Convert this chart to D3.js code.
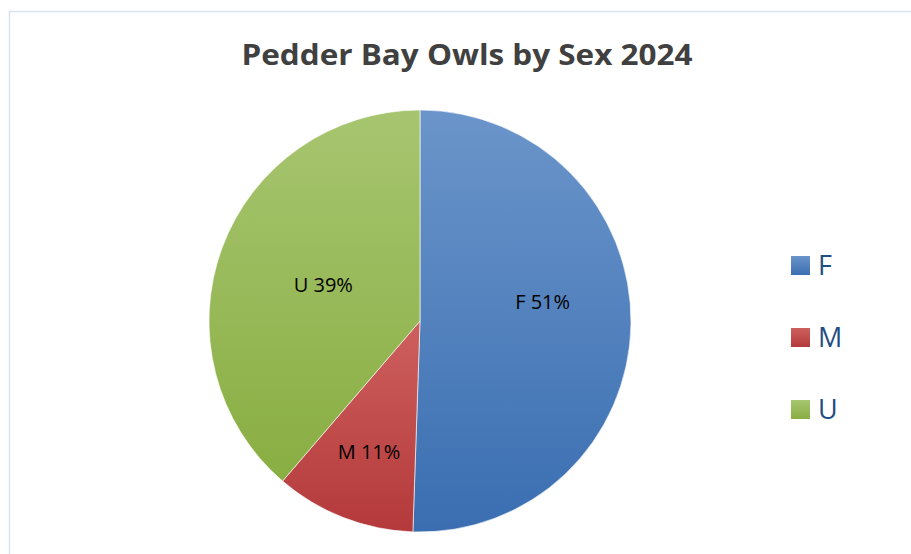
<!DOCTYPE html>
<html>
<head>
<meta charset="utf-8">
<script src="https://cdn.jsdelivr.net/npm/d3@7"></script>
<style>
  body { margin: 0; background: #fff; }
  svg { display: block; }
</style>
</head>
<body>
<script>
// owl counts by sex, 2024
const categories = ["F", "M", "U"]
const counts = [47, 10, 36]
const pctLabels = ["51%", "11%", "39%"]
const colorsTop = ["#6b95ca", "#cd605e", "#a7c570"]
const colorsBottom = ["#3a6eb1", "#b4393a", "#89ae42"]
// nudges so labels sit where Excel's best-fit put them
const labelShift = [[-4, -21], [-5, 13], [22, 8]]

const width = 911
const height = 554
const cx = 420, cy = 321, r = 211

const svg = d3.select("body").append("svg")
    .attr("width", width)
    .attr("height", height)

// chart border
svg.append("rect")
    .attr("x", 9.5).attr("y", 11.5)
    .attr("width", 920).attr("height", 560)
    .attr("fill", "none")
    .attr("stroke", "#d9e4f2")
    .attr("stroke-width", 1.5)

const defs = svg.append("defs")
categories.forEach((c, i) => {
    const g = defs.append("linearGradient")
        .attr("id", "grad" + c)
        .attr("x1", 0).attr("y1", 0).attr("x2", 0).attr("y2", 1)
    g.append("stop").attr("offset", "0%").attr("stop-color", colorsTop[i])
    g.append("stop").attr("offset", "100%").attr("stop-color", colorsBottom[i])
})

svg.append("text")
    .attr("x", 467)
    .attr("y", 65)
    .attr("text-anchor", "middle")
    .attr("font-family", "Open Sans, sans-serif")
    .attr("font-weight", "bold")
    .attr("font-size", 29)
    .attr("fill", "#404040")
    .attr("textLength", 451)
    .attr("lengthAdjust", "spacingAndGlyphs")
    .text("Pedder Bay Owls by Sex 2024")

const data = categories.map((c, i) => ({ cat: c, value: counts[i], pct: pctLabels[i], i }))

const pie = d3.pie().sort(null).value(d => d.value)
const arc = d3.arc().innerRadius(0).outerRadius(r)
const labelArc = d3.arc().innerRadius(r * 0.6).outerRadius(r * 0.6)

const g = svg.append("g").attr("transform", `translate(${cx},${cy})`)

const arcs = pie(data)

g.selectAll("path")
    .data(arcs)
    .enter()
    .append("path")
    .attr("d", arc)
    .attr("fill", d => `url(#grad${d.data.cat})`)
    .attr("stroke", "#fff")
    .attr("stroke-width", 0.6)

g.selectAll("text.lbl")
    .data(arcs)
    .enter()
    .append("text")
    .attr("class", "lbl")
    .attr("transform", d => {
        const [x, y] = labelArc.centroid(d)
        const s = labelShift[d.data.i]
        return `translate(${x + s[0]},${y + s[1]})`
    })
    .attr("text-anchor", "middle")
    .attr("dy", "0.35em")
    .attr("font-family", "Open Sans, sans-serif")
    .attr("font-size", 20)
    .attr("fill", "#000")
    .text(d => d.data.cat + " " + d.data.pct)

// legend
const legend = svg.append("g").attr("transform", "translate(791,256)")
const item = legend.selectAll("g")
    .data(data)
    .enter()
    .append("g")
    .attr("transform", (d, i) => `translate(0,${i * 72})`)

item.append("rect")
    .attr("width", 19).attr("height", 19)
    .attr("fill", d => `url(#grad${d.cat})`)

item.append("text")
    .attr("x", 27)
    .attr("y", 19)
    .attr("font-family", "Open Sans, sans-serif")
    .attr("font-size", 27)
    .attr("fill", "#1f4e83")
    .text(d => d.cat)
</script>
</body>
</html>
